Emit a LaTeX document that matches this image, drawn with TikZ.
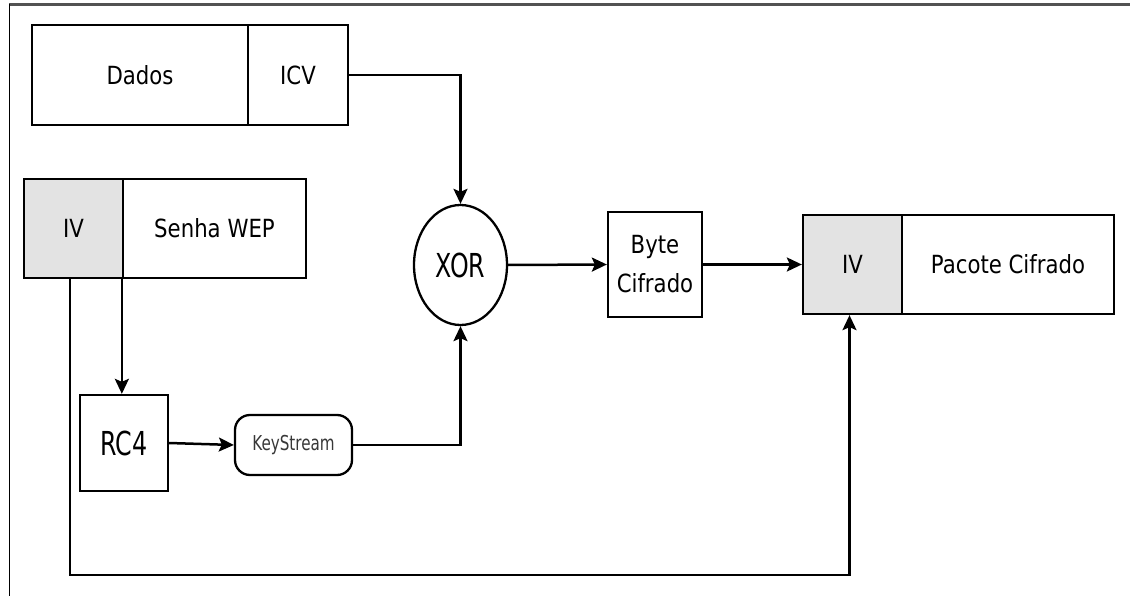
\documentclass[tikz,border=0pt]{standalone}
\usepackage{fontspec}
\setmainfont[FakeStretch=0.85]{DejaVu Sans}
\newfontfamily\bigf[FakeStretch=0.72]{DejaVu Sans}
\newfontfamily\smallf[FakeStretch=0.74]{DejaVu Sans}
\usetikzlibrary{shapes.geometric,arrows.meta}
\tikzset{
  box/.style={draw=black,line width=2.3pt,fill=white,inner sep=0pt,
    font=\fontsize{25}{39}\selectfont,align=center},
  ivbox/.style={box,fill=black!11},
  conn/.style={line width=2.5pt,draw=black},
  arr/.style={conn,-{Stealth[length=15pt,width=14pt,inset=3pt]}},
}
\begin{document}
\begin{tikzpicture}[x=1pt,y=-1pt]
\useasboundingbox (0,0) rectangle (1130,596);
\fill[white] (0,0) rectangle (1130,596);
% frame
\draw[black!68,line width=2.2pt] (9,4.5) -- (1130,4.5);
\draw[black,line width=1.4pt] (9.5,4) -- (9.5,596);
% nodes
\node[box,minimum width=216pt,minimum height=100pt] (dados) at (140,75) {Dados};
\node[box,minimum width=100pt,minimum height=100pt] (icv) at (298,75) {ICV};
\node[ivbox,minimum width=99pt,minimum height=99pt] (iv1) at (73.5,228.5) {IV};
\node[box,minimum width=183pt,minimum height=99pt] (senha) at (214.5,228.5) {Senha WEP};
\node[box,minimum width=88pt,minimum height=96pt,font=\bigf\fontsize{33}{36}\selectfont] (rc4) at (124,443) {RC4};
\node[box,rounded corners=15pt,minimum width=117pt,minimum height=60pt,
      font=\smallf\fontsize{20.5}{24}\selectfont,text=black!78] (ks) at (293.5,445) {KeyStream};
\node[box,ellipse,minimum width=93pt,minimum height=120pt,font=\bigf\fontsize{33}{36}\selectfont] (xor) at (460.5,265) {XOR};
\node[box,minimum width=94pt,minimum height=105pt] (byte) at (655,264.5) {Byte\\Cifrado};
\node[ivbox,minimum width=99pt,minimum height=99pt] (iv2) at (852.5,264.5) {IV};
\node[box,minimum width=212pt,minimum height=99pt] (pacote) at (1008,264.5) {Pacote Cifrado};
\coordinate (bot) at (70,575);
% connectors
\draw[arr] (icv.east) -| (xor.north);
\draw[arr] (ks.east) -| (xor.south);
\draw[arr] (xor.east) -- (byte.west);
\draw[arr] (byte.east) -- (iv2.west);
\draw[arr] (senha.south west) -- (senha.south west |- rc4.north);
\draw[arr] (rc4.east) -- (ks.west);
\draw[arr] ([xshift=-3.5pt]iv1.south) -- (bot) -| ([xshift=-3pt]iv2.south);
\end{tikzpicture}
\end{document}
